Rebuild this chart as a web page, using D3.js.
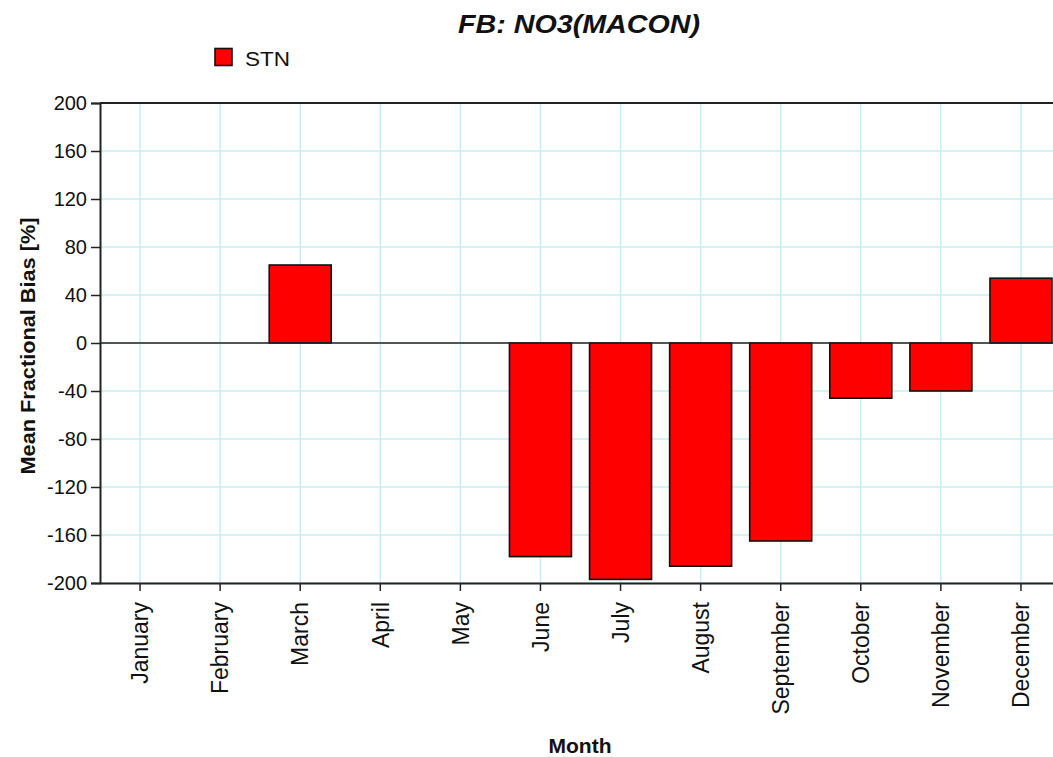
<!DOCTYPE html>
<html>
<head>
<meta charset="utf-8">
<script src="https://cdn.jsdelivr.net/npm/d3@7"></script>
<style>
  html, body { margin: 0; padding: 0; background: #fff; overflow: hidden; }
  svg { display: block; font-family: Arial, "Liberation Sans", sans-serif; }
</style>
</head>
<body>
<svg id="chart" width="1053" height="757"></svg>
<script>
const months = ["January","February","March","April","May","June","July","August","September","October","November","December"];
const stnValues = [null, null, 65, null, null, -178, -197, -186, -165, -46, -40, 54];
const yTicks = [-200, -160, -120, -80, -40, 0, 40, 80, 120, 160, 200];
const seriesName = "STN";
const titleText = "FB: NO3(MACON)";
const xTitle = "Month";
const yTitle = "Mean Fractional Bias [%]";

const svg = d3.select("#chart");
const m = { left: 100, right: 1061, top: 103, bottom: 583 };

const x = d3.scaleBand().domain(months).range([m.left, m.right]).paddingInner(0.226).paddingOuter(0.113);
const y = d3.scaleLinear().domain([-200, 200]).range([m.bottom, m.top]);

const grid = "#c4f0f0";
svg.append("g").selectAll("line").data(yTicks).join("line")
  .attr("x1", m.left).attr("x2", m.right)
  .attr("y1", d => y(d)).attr("y2", d => y(d))
  .attr("stroke", grid).attr("stroke-width", 1.5);
svg.append("g").selectAll("line").data(months).join("line")
  .attr("x1", d => x(d) + x.bandwidth() / 2).attr("x2", d => x(d) + x.bandwidth() / 2)
  .attr("y1", m.top).attr("y2", m.bottom)
  .attr("stroke", grid).attr("stroke-width", 1.5);

svg.append("line").attr("x1", m.left).attr("x2", m.right).attr("y1", m.top).attr("y2", m.top)
  .attr("stroke", "#222").attr("stroke-width", 2);

const data = months.map((mo, i) => ({ month: mo, v: stnValues[i] })).filter(d => d.v !== null);
svg.append("g").selectAll("rect").data(data).join("rect")
  .attr("x", d => x(d.month))
  .attr("width", x.bandwidth())
  .attr("y", d => y(Math.max(0, d.v)))
  .attr("height", d => Math.abs(y(d.v) - y(0)))
  .attr("fill", "#ff0000").attr("stroke", "#111").attr("stroke-width", 1.6);

svg.append("line").attr("x1", m.left).attr("x2", m.right).attr("y1", y(0)).attr("y2", y(0))
  .attr("stroke", "#222").attr("stroke-width", 1.6);

const yAxis = svg.append("g").attr("transform", `translate(${m.left},0)`)
  .call(d3.axisLeft(y).tickValues(yTicks).tickSize(9).tickPadding(4).tickFormat(d => String(d)));
yAxis.select(".domain").attr("stroke", "#222").attr("stroke-width", 2);
yAxis.selectAll(".tick line").attr("stroke", "#222").attr("stroke-width", 1.5);
yAxis.selectAll(".tick text").attr("font-size", 20).attr("fill", "#111")
  .attr("font-family", "Arial, 'Liberation Sans', sans-serif");

const xAxis = svg.append("g").attr("transform", `translate(0,${m.bottom})`)
  .call(d3.axisBottom(x).tickSize(8).tickSizeOuter(0));
xAxis.select(".domain").attr("stroke", "#222").attr("stroke-width", 2);
xAxis.selectAll(".tick line").attr("stroke", "#222").attr("stroke-width", 1.5);
xAxis.selectAll(".tick text")
  .attr("font-size", 23).attr("fill", "#111")
  .attr("font-family", "Arial, 'Liberation Sans', sans-serif")
  .attr("text-anchor", "end")
  .attr("transform", "rotate(-90)")
  .attr("x", -19).attr("y", 0).attr("dy", "0.36em");

svg.append("text").attr("x", 579).attr("y", 33)
  .attr("text-anchor", "middle").attr("font-size", 26).attr("font-weight", "bold").attr("font-style", "italic")
  .attr("textLength", 242).attr("lengthAdjust", "spacingAndGlyphs")
  .attr("fill", "#111").text(titleText);

svg.append("rect").attr("x", 215).attr("y", 48.5).attr("width", 17).attr("height", 17)
  .attr("fill", "#ff0000").attr("stroke", "#111").attr("stroke-width", 1.6);
svg.append("text").attr("x", 245).attr("y", 66).attr("font-size", 21).attr("fill", "#111")
  .attr("textLength", 45).attr("lengthAdjust", "spacingAndGlyphs").text(seriesName);

svg.append("text").attr("x", 580).attr("y", 753).attr("text-anchor", "middle")
  .attr("font-size", 21).attr("font-weight", "bold").attr("fill", "#111").text(xTitle);
svg.append("text").attr("transform", "translate(35,346) rotate(-90)").attr("text-anchor", "middle")
  .attr("font-size", 20).attr("font-weight", "bold").attr("fill", "#111")
  .attr("textLength", 257).attr("lengthAdjust", "spacingAndGlyphs").text(yTitle);
</script>
</body>
</html>
